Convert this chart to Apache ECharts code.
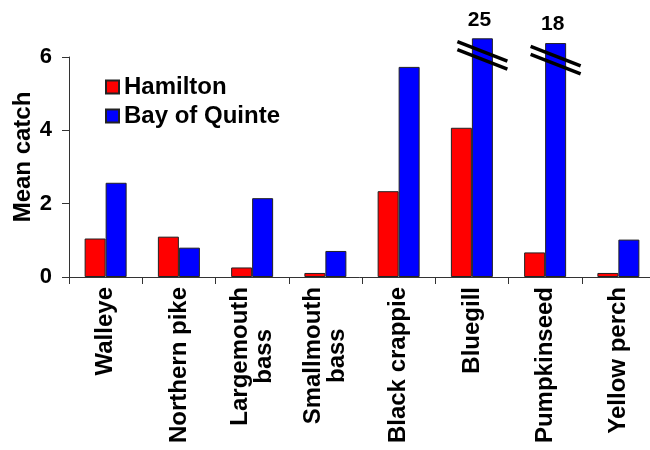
<!DOCTYPE html>
<html>
<head>
<meta charset="utf-8">
<script src="https://cdn.jsdelivr.net/npm/echarts@6/dist/echarts.min.js"></script>
<style>
html,body{margin:0;padding:0;background:#fff;}
#chart{width:650px;height:450px;}
</style>
</head>
<body>
<div id="chart"></div>
<script>
const categories = ['Walleye', 'Northern pike', 'Largemouth\nbass', 'Smallmouth\nbass', 'Black crappie', 'Bluegill', 'Pumpkinseed', 'Yellow perch'];
const hamilton = [1.05, 1.10, 0.26, 0.11, 2.34, 4.07, 0.67, 0.11];
// Bay of Quinte bar heights as drawn (two bars are broken off above the axis top)
const quinte = [2.57, 0.80, 2.15, 0.71, 5.73, 6.51, 6.38, 1.02];
// true values printed above the broken bars
const quinteBreakLabels = ['', '', '', '', '', '25', '18', ''];
const yMin = 0, yMax = 6, yInterval = 2;
const seriesNames = ['Hamilton', 'Bay of Quinte'];

const FONT = "'Liberation Sans', Arial, Helvetica, sans-serif";
const BAR_W = 21;
const XL_SIZE = 24;
const XL_LH = 23.5;

const breakData = [];
quinteBreakLabels.forEach((l, i) => { if (l) breakData.push([i, quinte[i]]); });

// measure text to center the short lines of two-line category labels
const mctx = document.createElement('canvas').getContext('2d');
mctx.font = 'bold ' + XL_SIZE + 'px ' + FONT;
function textW(s) { return mctx.measureText(s).width; }

const richStyles = {};
function lineKey(pad) {
  const k = 'p' + Math.round(pad * 10);
  if (!richStyles[k]) {
    richStyles[k] = {padding: [0, pad, 0, pad], fontFamily: FONT, fontSize: XL_SIZE, fontWeight: 'bold', color: '#000', lineHeight: XL_LH};
  }
  return k;
}
function formatCat(v) {
  if (v.indexOf('\n') < 0) return v;
  const lines = v.split('\n');
  const w = Math.max.apply(null, lines.map(textW));
  return lines.map(s => '{' + lineKey((w - textW(s)) / 2) + '|' + s + '}').join('\n');
}
categories.forEach(formatCat);

const chart = echarts.init(document.getElementById('chart'), null, {renderer: 'canvas'});
chart.setOption({
  animation: false,
  backgroundColor: '#fff',
  textStyle: {fontFamily: FONT},
  grid: {left: 69, top: 57, width: 586, height: 220, containLabel: false, outerBoundsMode: 'none'},
  legend: {
    data: seriesNames,
    orient: 'vertical',
    left: 105, top: 75, padding: 0,
    itemWidth: 13, itemHeight: 13, itemGap: 5,
    icon: 'rect',
    textStyle: {fontFamily: FONT, fontSize: 24, fontWeight: 'bold', color: '#000', lineHeight: 24}
  },
  xAxis: {
    type: 'category',
    data: categories,
    axisLine: {lineStyle: {color: '#333', width: 1}},
    axisTick: {show: true, length: 7, alignWithLabel: false, lineStyle: {color: '#333'}},
    axisLabel: {
      interval: 0, rotate: 90, margin: 10,
      fontFamily: FONT, fontSize: XL_SIZE, fontWeight: 'bold', color: '#000', lineHeight: XL_LH,
      formatter: formatCat,
      rich: richStyles
    }
  },
  yAxis: {
    type: 'value',
    min: yMin, max: yMax, interval: yInterval,
    name: 'Mean catch',
    nameLocation: 'middle',
    nameGap: 34,
    nameMoveOverlap: false,
    nameTextStyle: {fontFamily: FONT, fontSize: 24, fontWeight: 'bold', color: '#000', padding: [0, 0, 0, 20]},
    axisLine: {show: true, lineStyle: {color: '#333', width: 1}},
    axisTick: {show: true, length: 7, lineStyle: {color: '#333'}},
    splitLine: {show: false},
    axisLabel: {margin: 17, fontFamily: FONT, fontSize: 22, fontWeight: 'bold', color: '#000'}
  },
  series: [
    {
      name: seriesNames[0], type: 'bar', data: hamilton,
      barWidth: BAR_W, barGap: '0%', clip: false,
      itemStyle: {color: '#ff0000', borderColor: '#222', borderWidth: 1}
    },
    {
      name: seriesNames[1], type: 'bar', data: quinte,
      barWidth: BAR_W, barGap: '0%', clip: false,
      itemStyle: {color: '#0000ff', borderColor: '#222', borderWidth: 1},
      label: {
        show: true, position: 'top', distance: 8, offset: [-3, 0],
        fontFamily: FONT, fontSize: 21, fontWeight: 'bold', color: '#000',
        formatter: p => quinteBreakLabels[p.dataIndex]
      }
    },
    {
      name: 'break', type: 'custom', data: breakData, z: 5, clip: false,
      encode: {x: 0, y: 1},
      renderItem: function (params, api) {
        const p = api.coord([api.value(0), api.value(1)]);
        const cx = p[0] + BAR_W / 2;
        const top = p[1];
        const half = 25, slope = 0.39;
        return {
          type: 'group',
          children: [13, 21].map(off => ({
            type: 'line',
            shape: {x1: cx - half, y1: top + off - half * slope, x2: cx + half, y2: top + off + half * slope},
            style: {stroke: '#000', lineWidth: 3.5}
          }))
        };
      }
    }
  ]
});
</script>
</body>
</html>
